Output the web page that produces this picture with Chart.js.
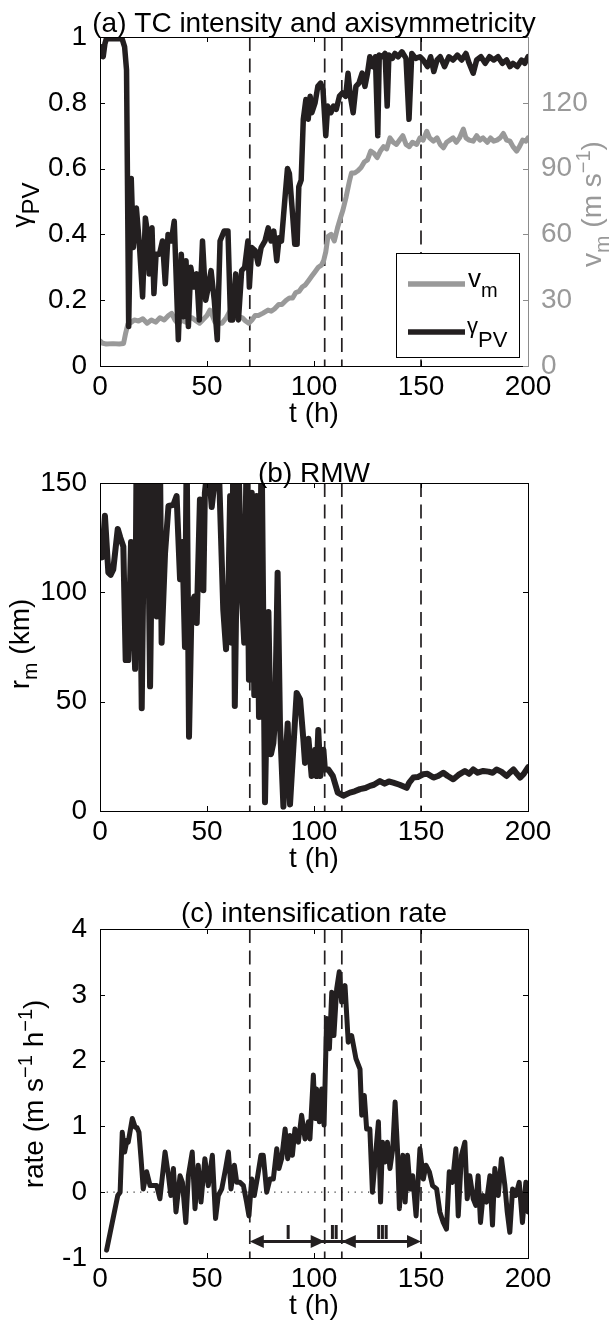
<!DOCTYPE html>
<html>
<head>
<meta charset="utf-8">
<script src="https://cdn.jsdelivr.net/npm/chart.js@4.4.0/dist/chart.umd.min.js"></script>
<style>
  body { margin: 0; background: #fff; width: 612px; height: 1330px; position: relative; overflow: hidden; }
  canvas { position: absolute; left: 0; }
</style>
</head>
<body>
<canvas id="panelA" width="612" height="440" style="top:0px"></canvas>
<canvas id="panelB" width="612" height="440" style="top:440px"></canvas>
<canvas id="panelC" width="612" height="450" style="top:880px"></canvas>
<script>
// phase boundaries (h) and the labels of the phases between them
const phaseBounds = [70, 105, 113, 150];
const phaseNames = ['I', 'II', 'III'];
const arrowLevel = -0.75;

// (a) axisymmetricity gamma_PV
const gammaTime = [0, 0.8, 1.5, 2.3, 3, 6, 10.3, 11.5, 12.4, 13.4, 14.6, 15.6, 17, 18.4, 19.9, 21.2, 22.3, 23, 24.3, 25.2,
  26.2, 27.8, 29.2, 30.5, 31.8, 33.3, 34.7, 36.6, 38, 39, 40.2, 41.3, 42.4, 43.9, 45.2, 46.4, 47.9, 49.4, 50.6, 51.9,
  53.4, 54.8, 56.1, 58, 59.8, 61, 62, 63.4, 64.7, 66.2, 67.6, 69.1, 69.8, 70.9, 72.6, 73.9, 75.3, 77.1, 78.6, 79.9,
  81.2, 82.6, 83.7, 84.8, 86.3, 87.6, 88.5, 90, 91, 92.1, 92.9, 94, 95, 96.2, 97.3, 98.2, 99, 100.5, 101.8, 103.1,
  104.2, 105.5, 106.4, 107.9, 109.1, 110.4, 111.9, 113.3, 114.8, 115.9, 117, 118.3, 119.6, 121, 122.5, 123.8, 125, 126.1, 127.4, 128.7,
  129.8, 130.5, 132, 133.2, 134.2, 135, 136.6, 137.8, 139.3, 141.1, 143, 144.4, 145.7, 147.5, 149.5, 151, 153, 154.5, 156, 157.5,
  159, 161, 163, 165, 167, 169, 171, 172.5, 174.4, 176, 178, 180, 182, 184, 186, 188, 190, 191.6, 193, 195,
  197, 198.5, 200];
const gammaVal = [0.95, 0.97, 0.94, 0.98, 0.995, 0.995, 0.995, 0.97, 0.9, 0.12, 0.57, 0.36, 0.48, 0.37, 0.21, 0.45, 0.40, 0.28, 0.42, 0.22,
  0.34, 0.34, 0.38, 0.25, 0.40, 0.38, 0.44, 0.08, 0.34, 0.15, 0.32, 0.12, 0.30, 0.24, 0.28, 0.14, 0.38, 0.20, 0.24, 0.29,
  0.20, 0.08, 0.38, 0.41, 0.41, 0.14, 0.14, 0.28, 0.14, 0.29, 0.30, 0.38, 0.24, 0.36, 0.35, 0.31, 0.36, 0.38, 0.42, 0.38,
  0.41, 0.32, 0.39, 0.38, 0.50, 0.60, 0.585, 0.46, 0.37, 0.37, 0.545, 0.565, 0.75, 0.81, 0.75, 0.82, 0.77, 0.80, 0.85, 0.86,
  0.84, 0.70, 0.79, 0.77, 0.79, 0.78, 0.82, 0.83, 0.82, 0.89, 0.82, 0.77, 0.85, 0.86, 0.89, 0.85, 0.89, 0.94, 0.91, 0.94,
  0.70, 0.945, 0.94, 0.95, 0.79, 0.945, 0.935, 0.95, 0.94, 0.955, 0.935, 0.75, 0.95, 0.935, 0.94, 0.93, 0.91, 0.94, 0.895, 0.93,
  0.94, 0.91, 0.94, 0.93, 0.945, 0.93, 0.95, 0.92, 0.89, 0.93, 0.94, 0.92, 0.94, 0.93, 0.94, 0.92, 0.93, 0.91, 0.92, 0.91,
  0.93, 0.92, 0.94];

// (a) intensity v_m (m/s)
const vmTime = [0, 1, 3, 6, 9, 11, 12, 13, 14, 16, 18, 20, 22, 24, 26, 28, 30, 32, 33.5, 35,
  36.6, 38, 40, 41.3, 43, 45, 46.5, 48, 50, 51.4, 52.5, 53.7, 55.5, 57, 59, 61, 62, 63.5, 65, 66.5,
  68, 69.5, 71, 72.5, 74, 76, 78.5, 80, 81.5, 83.5, 85, 87, 88.5, 90, 91.5, 93, 94.5, 96, 97.5, 99,
  100.5, 102, 103.5, 104.5, 105.5, 106.5, 108, 109.5, 111, 112.5, 113.5, 115, 116.5, 117.5, 119, 120.5, 122, 123.5, 125, 126.5,
  128, 129.5, 131, 132.5, 134, 135.5, 137, 138.5, 140, 141.5, 143, 144.5, 146, 148, 149.5, 151, 152.7, 154, 155.8, 157.5,
  159, 160.5, 162, 163.5, 165, 166.5, 168, 169.8, 171, 172.5, 174.4, 176, 177.5, 179, 181, 182.5, 184, 185.5, 187, 188.5,
  190, 191.6, 193, 194.7, 196, 197.5, 199, 200];
const vmVal = [11.5, 10.5, 10, 10.2, 10, 10.3, 15, 19, 19.5, 21, 20.5, 21.5, 19.5, 21, 20, 22, 21, 23, 24, 21,
  19, 21, 20, 21.5, 22, 20.5, 19.5, 21, 23, 25.5, 23, 20, 19.5, 19.5, 22, 25.5, 26, 22, 22.5, 22,
  20.5, 19.5, 21, 23, 23, 24, 25.5, 25, 26, 28, 28, 30, 31, 31, 33.5, 34, 36, 37, 39, 41,
  43, 45, 46, 48, 52, 59, 60, 57, 63, 68, 71, 77, 84, 88, 88, 89, 90.5, 93, 94, 98,
  97, 95, 98, 100, 99, 104, 102, 101, 103, 105, 101, 100, 102, 101, 104, 103, 107, 104, 102.5, 104,
  101, 99.5, 102, 103, 104, 102, 104, 108, 104, 103, 102.5, 105, 103, 104, 102, 104, 102.5, 103, 104, 106,
  103, 102.5, 100, 98, 100, 103, 102.5, 104];

// (b) radius of maximum wind r_m (km)
const rmTime = [0, 1, 2.3, 3.9, 5, 6.2, 8.3, 9.5, 10.9, 12, 13.2, 14.5, 16.4, 17.1, 18.3, 19.5, 21, 22.2, 23.4, 24.9,
  26.5, 28, 28.8, 30.4, 32, 34.3, 35.8, 37.4, 38.5, 39.7, 40.5, 41.6, 42.8, 44.1, 45.2, 46.7, 48.3, 49, 50.6, 52.2,
  53.7, 55.3, 57.6, 58.9, 60, 60.8, 61.5, 62.3, 63, 64.6, 66.2, 67.4, 68.5, 69.6, 70.9, 72.1, 73.2, 74.3, 75.5, 77.1,
  78.7, 79.9, 81, 81.8, 83, 84.1, 85.7, 86.8, 87.7, 88.8, 90.3, 91.9, 93.5, 95, 95.8, 97.4, 98.9, 100.5, 101.2, 102,
  103, 104.4, 105.1, 106.7, 108.8, 111.1, 113.7, 116.8, 119, 121.5, 124, 126.2, 128, 130.8, 133, 135, 137, 140, 143.3, 144.5,
  146.4, 148.5, 151, 153, 155.8, 158, 160.4, 162.5, 165.1, 167.5, 170.5, 172.5, 174.4, 176.5, 179.1, 181.5, 183.5, 185.3, 187.5, 190,
  191.5, 193.2, 194.8, 196.3, 198, 200];
const rmVal = [118, 116, 135, 109, 108, 110.5, 129, 125, 121, 69, 69, 123, 65, 165, 150, 47, 170, 160, 57, 170,
  89, 165, 77, 118, 139.5, 140, 144, 106, 123, 75, 165, 34, 95, 98, 86, 142.5, 101, 145.5, 160, 139,
  152, 165, 92, 74, 100, 144, 77, 165, 48, 165, 100, 77, 165, 60, 145.5, 53, 144, 43, 170, 4,
  91, 26, 31, 42, 109, 40, 2, 24, 40, 3, 28, 54, 51, 33, 22, 33, 16, 28, 16, 37,
  16, 28, 19, 19, 16, 8.4, 7, 8.4, 9, 10, 10.5, 11.5, 12, 13.7, 12.5, 13.5, 13, 12, 10.6, 13,
  15.3, 15.5, 16.8, 17, 15.3, 16, 17.5, 16, 14.5, 16.5, 18.3, 17, 19, 17.5, 18.3, 18, 17.5, 19, 18, 16,
  17.5, 19, 17, 15.3, 17, 20];

// (c) intensification rate (m s^-1 h^-1)
const rateTime = [3.1, 8.3, 9.4, 10.4, 11.5, 12.6, 13.2, 15.1, 16.4, 17.3, 18.2, 19.2, 20.2, 21.8, 23.4, 24.9, 26.5, 28, 30.4, 32,
  33.1, 34.3, 35.5, 37.4, 38.5, 40.1, 41.3, 43.1, 44.4, 45.9, 47.2, 49, 50.6, 52.5, 54, 55.3, 56.9, 58.7, 60, 61.2,
  62.8, 63.9, 65.4, 67, 68.5, 69.6, 70.9, 72.1, 73.7, 75.2, 76.3, 77.9, 79.4, 81, 82.6, 83.6, 84.9, 86.5, 87.7, 88.8,
  89.9, 91.1, 92.7, 94.2, 95.8, 97.4, 98.1, 99.7, 100.5, 101.2, 102.5, 103.6, 104.7, 105.9, 107.2, 108.3, 109.3, 110.6, 111.8, 112.9,
  114.5, 116, 117.6, 119.6, 121.5, 122.3, 123.5, 124.6, 126.1, 127.3, 128.5, 130.1, 131.1, 132, 133.2, 134.3, 135.5, 136.8, 137.9, 139,
  139.9, 141.5, 142.6, 143.7, 144.9, 146.1, 147.7, 149.5, 151.1, 152.3, 153.9, 155.4, 157.3, 158.8, 160.4, 161.9, 163.2, 164.7, 166.3, 167.4,
  168.9, 170.5, 171.6, 172.8, 174.4, 175.6, 176.7, 177.8, 179, 180.6, 182.2, 183.4, 184.5, 186.1, 187.6, 189.2, 190.3, 191.5, 192.8, 194.3,
  195.9, 197.4, 199, 200];
const rateVal = [-0.88, -0.05, 0, 0.91, 0.61, 0.79, 0.76, 1.12, 0.99, 0.98, 0.91, 0.5, 0.05, 0.31, 0.10, 0.1, 0.1, -0.1, 0.61, 0.25,
  -0.05, 0.36, -0.3, 0.25, 0.15, -0.46, 0.25, 0.61, -0.25, 0.41, -0.15, 0.51, 0.1, 0.56, -0.4, -0.05, 0.05, 0.36, 0.61, 0.05,
  0.41, 0.15, 0.15, 0.1, -0.15, -0.36, 0.2, -0.05, 0.25, 0.56, 0.56, 0, 0.2, 0.2, 0.66, 0.36, 0.51, 0.96, 0.51, 0.86,
  0.56, 0.96, 0.76, 1.17, 0.81, 1.07, 0.81, 1.78, 1.12, 1.57, 1.07, 1.57, 1.02, 2.64, 2.18, 3.04, 2.38, 3.09, 3.35, 2.89,
  3.14, 2.28, 2.38, 2.03, 1.87, 1.17, 1.47, 0.96, 0.96, 0, 0.46, 1.07, -0.15, 0.76, 0.46, 0.76, 0.36, 0.66, 1.37, 0.66,
  -0.25, 0.56, -0.15, 0.56, 0.05, 0.25, -0.36, 0.66, 0.2, 0.41, 0.31, 0.1, 0.05, -0.3, -0.46, -0.56, 0.31, 0.15, 0.66, -0.36,
  0.56, 0.76, -0.1, 0.25, -0.1, -0.2, 0.25, -0.46, -0.05, -0.15, 0.25, -0.5, 0.36, -0.05, 0.51, 0.1, -0.3, -0.61, 0.05, -0.05,
  0.15, -0.46, 0.15, -0.3];

const FONT = '"Liberation Sans", Arial, Helvetica, sans-serif';
const INK = '#231f20';
const GREY = '#999999';

function pairs(xs, ys) {
  return xs.map((x, i) => ({ x: x, y: ys[i] }));
}

// draws a label made of pieces: [text, size, baseline shift]
function rich(ctx, parts, x, y, rot, color, align) {
  ctx.save();
  ctx.translate(x, y);
  if (rot) ctx.rotate(rot);
  ctx.fillStyle = color;
  ctx.textBaseline = 'alphabetic';
  ctx.textAlign = 'left';
  let w = 0;
  parts.forEach(p => { ctx.font = p[1] + 'px ' + FONT; w += ctx.measureText(p[0]).width; });
  let cx = align === 'left' ? 0 : -w / 2;
  parts.forEach(p => {
    ctx.font = p[1] + 'px ' + FONT;
    ctx.fillText(p[0], cx, p[2] || 0);
    cx += ctx.measureText(p[0]).width;
  });
  ctx.restore();
}

function seriesLine(xs, ys, color, width, axis) {
  return {
    data: pairs(xs, ys),
    borderColor: color, borderWidth: width,
    borderJoinStyle: 'round', borderCapStyle: 'round',
    pointRadius: 0, tension: 0, order: 0, yAxisID: axis || 'y'
  };
}

function boundaryLines(yMin, yMax) {
  return phaseBounds.map(b => ({
    data: [{ x: b, y: yMax }, { x: b, y: yMin }],
    borderColor: INK, borderWidth: 1.7, borderDash: [14, 7.5],
    pointRadius: 0, order: 5, yAxisID: 'y'
  }));
}

function xScale(h) {
  return {
    type: 'linear', min: 0, max: 200,
    grid: { display: false }, border: { display: false },
    ticks: { stepSize: 50, padding: -4, color: '#000', maxRotation: 0, autoSkip: false, font: { family: FONT, size: 28 } },
    afterFit: s => { s.height = h; }
  };
}

function yScale(min, max, step, pos, color, cb) {
  return {
    type: 'linear', position: pos, min: min, max: max,
    grid: { display: false }, border: { display: false },
    ticks: { stepSize: step, padding: 5, color: color, font: { family: FONT, size: 28 }, callback: cb },
    afterFit: s => { s.width = pos === 'left' ? 100 : 84; }
  };
}

// box round the plot with inward ticks on all four sides
const framePlugin = {
  id: 'frame',
  afterDatasetsDraw(chart) {
    const { ctx, chartArea: a, scales } = chart;
    const L = 5;
    const right = scales.y2 ? scales.y2 : scales.y;
    ctx.save();
    ctx.lineWidth = 1;
    ctx.strokeStyle = '#000';
    ctx.beginPath();
    scales.x.ticks.forEach(t => {
      const px = Math.round(scales.x.getPixelForValue(t.value)) + 0.5;
      ctx.moveTo(px, a.bottom); ctx.lineTo(px, a.bottom - L);
      ctx.moveTo(px, a.top); ctx.lineTo(px, a.top + L);
    });
    scales.y.ticks.forEach(t => {
      const py = Math.round(scales.y.getPixelForValue(t.value)) + 0.5;
      ctx.moveTo(a.left, py); ctx.lineTo(a.left + L, py);
    });
    ctx.moveTo(a.left + 0.5, a.top); ctx.lineTo(a.left + 0.5, a.bottom);
    ctx.moveTo(a.left, a.bottom + 0.5); ctx.lineTo(a.right, a.bottom + 0.5);
    ctx.moveTo(a.left, a.top + 0.5); ctx.lineTo(a.right, a.top + 0.5);
    ctx.stroke();
    ctx.strokeStyle = scales.y2 ? '#8c8c8c' : '#000';
    ctx.beginPath();
    right.ticks.forEach(t => {
      const py = Math.round(right.getPixelForValue(t.value)) + 0.5;
      ctx.moveTo(a.right, py); ctx.lineTo(a.right - L, py);
    });
    ctx.moveTo(a.right + 0.5, a.top); ctx.lineTo(a.right + 0.5, a.bottom + 1);
    ctx.stroke();
    ctx.restore();
  }
};

Chart.defaults.animation = false;
Chart.defaults.responsive = false;
Chart.defaults.plugins.legend.display = false;
Chart.defaults.plugins.tooltip.enabled = false;

// ---------- (a) ----------
new Chart(document.getElementById('panelA'), {
  type: 'line',
  data: {
    datasets: [
      seriesLine(gammaTime, gammaVal, INK, 5.5),
      Object.assign(seriesLine(vmTime, vmVal, GREY, 5, 'y2'), { order: 1 })
    ].concat(boundaryLines(0, 1))
  },
  options: {
    layout: { padding: { top: 37, left: 0, right: 0, bottom: 0 } },
    scales: {
      x: xScale(74),
      y: yScale(0, 1, 0.2, 'left', '#000'),
      y2: yScale(0, 150, 30, 'right', GREY, v => (v === 150 ? '' : v))
    }
  },
  plugins: [framePlugin, {
    id: 'textA',
    afterDraw(chart) {
      const { ctx, chartArea: a } = chart;
      const mid = (a.left + a.right) / 2;
      rich(ctx, [['(a) TC intensity and axisymmetricity', 28]], mid, 32, 0, '#000');
      rich(ctx, [['t (h)', 28]], mid, a.bottom + 56, 0, '#000');
      rich(ctx, [['γ', 26, 0], ['PV', 24, 9]], 30, 205, -Math.PI / 2, '#000');
      rich(ctx, [['v', 28, 0], ['m', 21, 8], [' (m s', 28, 0], ['−1', 20, -11], [')', 28, 0]], 601, 204, -Math.PI / 2, GREY);
      // legend
      const bx = a.right - 9 - 123, by = a.bottom - 9 - 104;
      ctx.save();
      ctx.fillStyle = '#fff';
      ctx.fillRect(bx, by, 123, 104);
      ctx.strokeStyle = '#000';
      ctx.lineWidth = 1;
      ctx.strokeRect(bx + 0.5, by + 0.5, 123, 104);
      ctx.lineWidth = 5.5;
      ctx.strokeStyle = GREY;
      ctx.beginPath(); ctx.moveTo(bx + 12, by + 31); ctx.lineTo(bx + 69, by + 31); ctx.stroke();
      ctx.strokeStyle = INK;
      ctx.beginPath(); ctx.moveTo(bx + 12, by + 79); ctx.lineTo(bx + 69, by + 79); ctx.stroke();
      ctx.restore();
      rich(ctx, [['v', 26, 0], ['m', 20, 10]], bx + 72, by + 34, 0, '#000', 'left');
      rich(ctx, [['γ', 22, 0], ['PV', 22, 14]], bx + 71, by + 80, 0, '#000', 'left');
    }
  }]
});

// ---------- (b) ----------
new Chart(document.getElementById('panelB'), {
  type: 'line',
  data: {
    datasets: [Object.assign(seriesLine(rmTime, rmVal, INK, 6), { clip: 0 })].concat(boundaryLines(0, 150))
  },
  options: {
    layout: { padding: { top: 43, left: 0, right: 84, bottom: 0 } },
    scales: {
      x: xScale(69),
      y: yScale(0, 150, 50, 'left', '#000')
    }
  },
  plugins: [framePlugin, {
    id: 'textB',
    afterDraw(chart) {
      const { ctx, chartArea: a } = chart;
      const mid = (a.left + a.right) / 2;
      rich(ctx, [['(b) RMW', 28]], mid, 41.5, 0, '#000');
      rich(ctx, [['t (h)', 28]], mid, a.bottom + 56, 0, '#000');
      rich(ctx, [['r', 28, 0], ['m', 21, 8], [' (km)', 28, 0]], 29, 204, -Math.PI / 2, '#000');
    }
  }]
});

// ---------- (c) ----------
new Chart(document.getElementById('panelC'), {
  type: 'line',
  data: {
    datasets: [
      seriesLine(rateTime, rateVal, INK, 5),
      {
        data: [{ x: 0, y: 0 }, { x: 200, y: 0 }],
        borderColor: '#333', borderWidth: 1.2, borderDash: [1.2, 5.5],
        pointRadius: 0, order: 6
      }
    ].concat(boundaryLines(-1, 4))
  },
  options: {
    layout: { padding: { top: 49, left: 0, right: 84, bottom: 0 } },
    scales: {
      x: xScale(72),
      y: yScale(-1, 4, 1, 'left', '#000')
    }
  },
  plugins: [framePlugin, {
    id: 'textC',
    afterDatasetsDraw(chart) {
      // phase arrows
      const { ctx, scales } = chart;
      const py = scales.y.getPixelForValue(arrowLevel);
      const px = phaseBounds.map(b => scales.x.getPixelForValue(b));
      ctx.save();
      ctx.strokeStyle = INK;
      ctx.fillStyle = INK;
      ctx.lineWidth = 3;
      ctx.beginPath(); ctx.moveTo(px[0] + 8, py); ctx.lineTo(px[3] - 8, py); ctx.stroke();
      const head = (tip, dir) => {
        ctx.beginPath();
        ctx.moveTo(tip, py);
        ctx.lineTo(tip - dir * 14, py - 6.5);
        ctx.lineTo(tip - dir * 14, py + 6.5);
        ctx.closePath();
        ctx.fill();
      };
      head(px[0], -1); head(px[1], 1); head(px[2], -1); head(px[3], 1);
      ctx.font = 'bold 21px ' + FONT;
      ctx.textAlign = 'center';
      ctx.textBaseline = 'alphabetic';
      ctx.letterSpacing = '-2px';
      phaseNames.forEach((n, i) => {
        ctx.fillText(n, (px[i] + px[i + 1]) / 2, py - 3);
      });
      ctx.restore();
    },
    afterDraw(chart) {
      const { ctx, chartArea: a } = chart;
      const mid = (a.left + a.right) / 2;
      rich(ctx, [['(c) intensification rate', 28]], mid, 41.5, 0, '#000');
      rich(ctx, [['t (h)', 28]], mid, a.bottom + 56, 0, '#000');
      rich(ctx, [['rate (m s', 28, 0], ['−1', 20, -11], [' h', 28, 0], ['−1', 20, -11], [')', 28, 0]], 43, 214, -Math.PI / 2, '#000');
    }
  }]
});
</script>
</body>
</html>
